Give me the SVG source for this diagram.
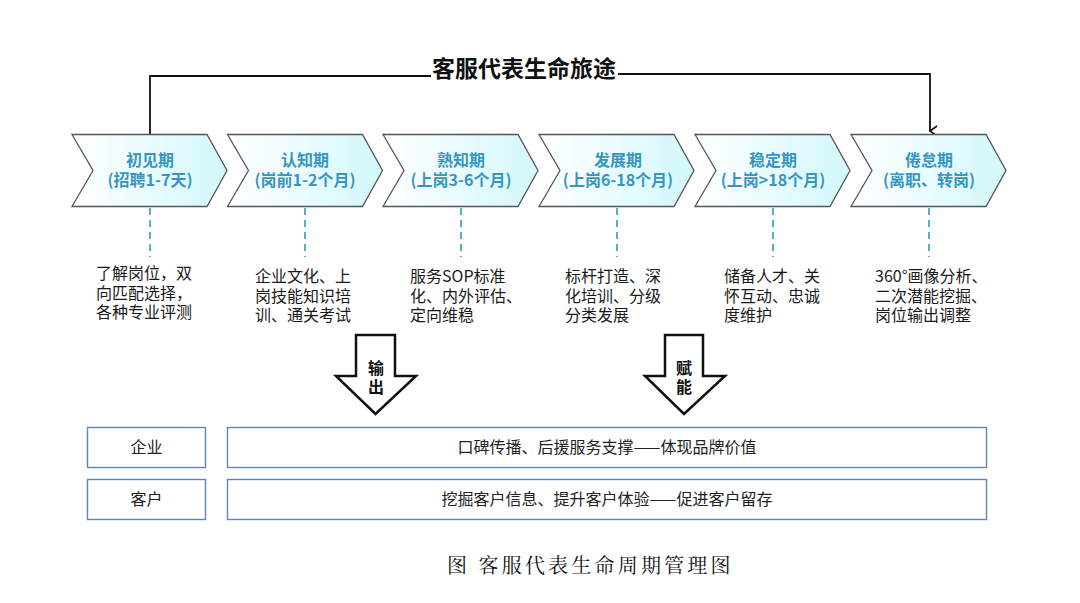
<svg xmlns="http://www.w3.org/2000/svg" width="1080" height="603" viewBox="0 0 1080 603">
<defs>
<linearGradient id="chev" x1="0" y1="0" x2="1" y2="0">
<stop offset="0" stop-color="#ffffff"/>
<stop offset="1" stop-color="#d2f8fc"/>
</linearGradient>
<marker id="arr" viewBox="0 0 12 12" refX="6" refY="11" markerWidth="12" markerHeight="12" markerUnits="userSpaceOnUse" orient="auto-start-reverse">
<path d="M1,4 L6,11 L11,4" fill="none" stroke="#111" stroke-width="1.6"/>
</marker>
<polygon id="chevshape" points="0,0 135,0 155,36 135,72 0,72 21,36"/>
</defs>
<style>
.chev{fill:url(#chev);stroke:#555;stroke-width:1.3}
.ct{font-family:"Noto Sans CJK SC","Microsoft YaHei",sans-serif;font-size:16px;font-weight:bold;fill:#3796bd;text-anchor:middle}
.dash{stroke:#5aafc8;stroke-width:2;stroke-dasharray:7 5;fill:none}
.desc{font-family:"Noto Sans CJK SC",sans-serif;font-size:16px;fill:#1a1a1a}
.blk{fill:#fff;stroke:#111;stroke-width:2.5;stroke-linejoin:miter}
.bt{font-family:"Noto Sans CJK SC",sans-serif;font-size:16px;font-weight:bold;fill:#111;text-anchor:middle}
.box{fill:#fff;stroke:#5b87bd;stroke-width:1.4}
.boxt{font-family:"Noto Sans CJK SC",sans-serif;font-size:16px;fill:#222;text-anchor:middle}
.line{fill:none;stroke:#111;stroke-width:1.8}
</style>
<rect width="1080" height="603" fill="#fff"/>

<g id="connectors">
<polyline class="line" points="150,134 150,76 431,76"/>
<polyline class="line" points="618,74 930,74 930,131" marker-end="url(#arr)"/>
<line class="dash" x1="150" y1="208" x2="150" y2="257"/>
<line class="dash" x1="305" y1="208" x2="305" y2="257"/>
<line class="dash" x1="461" y1="208" x2="461" y2="257"/>
<line class="dash" x1="617" y1="208" x2="617" y2="257"/>
<line class="dash" x1="773" y1="208" x2="773" y2="257"/>
<line class="dash" x1="929" y1="208" x2="929" y2="257"/>
</g>

<g id="title">
<text x="524" y="77" font-family="Noto Sans CJK SC,sans-serif" font-size="23" font-weight="bold" text-anchor="middle" fill="#111">客服代表生命旅途</text>
</g>

<g id="stage1">
<use href="#chevshape" class="chev" transform="translate(72,134.5)"/>
<text class="ct"><tspan x="150" y="166">初见期</tspan><tspan x="150" y="186">(招聘1-7天)</tspan></text>
</g>
<g id="stage2">
<use href="#chevshape" class="chev" transform="translate(227.5,134.5)"/>
<text class="ct"><tspan x="305" y="166">认知期</tspan><tspan x="305" y="186">(岗前1-2个月)</tspan></text>
</g>
<g id="stage3">
<use href="#chevshape" class="chev" transform="translate(383,134.5)"/>
<text class="ct"><tspan x="461" y="166">熟知期</tspan><tspan x="461" y="186">(上岗3-6个月)</tspan></text>
</g>
<g id="stage4">
<use href="#chevshape" class="chev" transform="translate(539,134.5)"/>
<text class="ct"><tspan x="618" y="166">发展期</tspan><tspan x="618" y="186">(上岗6-18个月)</tspan></text>
</g>
<g id="stage5">
<use href="#chevshape" class="chev" transform="translate(695,134.5)"/>
<text class="ct"><tspan x="773" y="166">稳定期</tspan><tspan x="773" y="186">(上岗&gt;18个月)</tspan></text>
</g>
<g id="stage6">
<use href="#chevshape" class="chev" transform="translate(851,134.5)"/>
<text class="ct"><tspan x="929" y="166">倦怠期</tspan><tspan x="929" y="186">(离职、转岗)</tspan></text>
</g>

<g id="desc1">
<text class="desc"><tspan x="96" y="279">了解岗位，双</tspan><tspan x="96" y="299">向匹配选择，</tspan><tspan x="96" y="318">各种专业评测</tspan></text>
</g>
<g id="desc2">
<text class="desc"><tspan x="255" y="282">企业文化、上</tspan><tspan x="255" y="302">岗技能知识培</tspan><tspan x="255" y="321">训、通关考试</tspan></text>
</g>
<g id="desc3">
<text class="desc"><tspan x="410" y="282">服务SOP标准</tspan><tspan x="410" y="302">化、内外评估、</tspan><tspan x="410" y="321">定向维稳</tspan></text>
</g>
<g id="desc4">
<text class="desc"><tspan x="565" y="282">标杆打造、深</tspan><tspan x="565" y="302">化培训、分级</tspan><tspan x="565" y="321">分类发展</tspan></text>
</g>
<g id="desc5">
<text class="desc"><tspan x="724" y="282">储备人才、关</tspan><tspan x="724" y="302">怀互动、忠诚</tspan><tspan x="724" y="321">度维护</tspan></text>
</g>
<g id="desc6">
<text class="desc"><tspan x="875" y="282">360°画像分析、</tspan><tspan x="875" y="302">二次潜能挖掘、</tspan><tspan x="875" y="321">岗位输出调整</tspan></text>
</g>

<g id="arrow-output">
<polygon class="blk" points="356,335 395,335 395,376 416,376 375.5,414 336,376 356,376"/>
<text class="bt"><tspan x="376" y="374">输</tspan><tspan x="376" y="393">出</tspan></text>
</g>
<g id="arrow-empower">
<polygon class="blk" points="665,335 703,335 703,376 725,376 684,414 645,376 665,376"/>
<text class="bt"><tspan x="684" y="374">赋</tspan><tspan x="684" y="393">能</tspan></text>
</g>

<g id="row-enterprise">
<rect class="box" x="87.5" y="427.5" width="118" height="40"/>
<text class="boxt" x="146.5" y="453">企业</text>
<rect class="box" x="227.5" y="427.5" width="759" height="40"/>
<text class="boxt" x="607" y="453">口碑传播、后援服务支撑——体现品牌价值</text>
</g>
<g id="row-customer">
<rect class="box" x="87.5" y="479.5" width="118" height="40"/>
<text class="boxt" x="146.5" y="505">客户</text>
<rect class="box" x="227.5" y="479.5" width="759" height="40"/>
<text class="boxt" x="607" y="505">挖掘客户信息、提升客户体验——促进客户留存</text>
</g>

<g id="caption">
<text x="447" y="573" font-family="Noto Serif CJK SC,Noto Sans CJK SC,serif" font-size="20" letter-spacing="3.2" fill="#111">图 客服代表生命周期管理图</text>
</g>
</svg>
